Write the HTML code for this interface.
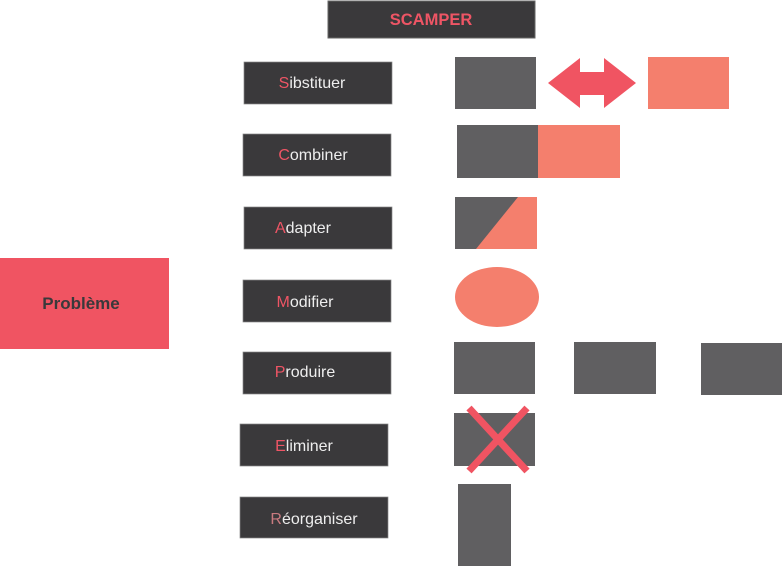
<!DOCTYPE html>
<html><head><style>
html,body{margin:0;padding:0;background:#fff;width:783px;height:566px;overflow:hidden}
svg{display:block}
text{font-family:"Liberation Sans",sans-serif}
</style></head><body>
<svg width="783" height="566" xmlns="http://www.w3.org/2000/svg">
<rect x="328" y="1" width="207" height="37" fill="#3a393b" stroke="#666" stroke-width="1"/>
<text x="431" y="25" font-size="16.5" font-weight="bold" fill="#ee5565" text-anchor="middle">SCAMPER</text>
<rect x="0" y="258" width="169" height="91" fill="#f05462"/>
<text x="81" y="309" font-size="17" font-weight="bold" fill="#3a393b" text-anchor="middle">Problème</text>
<g font-size="16" fill="#eee" text-anchor="middle">
<rect x="244" y="62" width="148" height="42" fill="#3a393b" stroke="#888" stroke-width="0.7"/>
<text x="312" y="88"><tspan fill="#ee5565">S</tspan>ibstituer</text>
<rect x="243" y="134" width="148" height="42" fill="#3a393b" stroke="#888" stroke-width="0.7"/>
<text x="313" y="160"><tspan fill="#ee5565">C</tspan>ombiner</text>
<rect x="244" y="207" width="148" height="42" fill="#3a393b" stroke="#888" stroke-width="0.7"/>
<text x="303" y="233"><tspan fill="#ee5565">A</tspan>dapter</text>
<rect x="243" y="280" width="148" height="42" fill="#3a393b" stroke="#888" stroke-width="0.7"/>
<text x="305" y="307"><tspan fill="#ee5565">M</tspan>odifier</text>
<rect x="243" y="352" width="148" height="42" fill="#3a393b" stroke="#888" stroke-width="0.7"/>
<text x="305" y="377"><tspan fill="#ee5565">P</tspan>roduire</text>
<rect x="240" y="424" width="148" height="42" fill="#3a393b" stroke="#888" stroke-width="0.7"/>
<text x="304" y="451"><tspan fill="#ee5565">E</tspan>liminer</text>
<rect x="240" y="497" width="148" height="41" fill="#3a393b" stroke="#888" stroke-width="0.7"/>
<text x="314" y="524"><tspan fill="#c97b80">R</tspan>éorganiser</text>
</g>
<rect x="455" y="57" width="81" height="52" fill="#605f61"/>
<polygon points="548,83 580,58 580,72 604,72 604,58 636,83 604,108 604,95 580,95 580,108" fill="#f05462"/>
<rect x="648" y="57" width="81" height="52" fill="#f47f6d"/>
<rect x="457" y="125" width="81" height="53" fill="#605f61"/>
<rect x="538" y="125" width="82" height="53" fill="#f47f6d"/>
<rect x="455" y="197" width="82" height="52" fill="#605f61"/>
<polygon points="518,197 537,197 537,249 476,249" fill="#f47f6d"/>
<ellipse cx="497" cy="297" rx="42" ry="30" fill="#f47f6d"/>
<rect x="454" y="342" width="81" height="52" fill="#605f61"/>
<rect x="574" y="342" width="82" height="52" fill="#605f61"/>
<rect x="701" y="343" width="81" height="52" fill="#605f61"/>
<rect x="454" y="413" width="81" height="53" fill="#605f61"/>
<line x1="469" y1="408" x2="527" y2="471" stroke="#f05462" stroke-width="7"/>
<line x1="527" y1="408" x2="469" y2="471" stroke="#f05462" stroke-width="7"/>
<rect x="458" y="484" width="53" height="82" fill="#605f61"/>
</svg>
</body></html>
